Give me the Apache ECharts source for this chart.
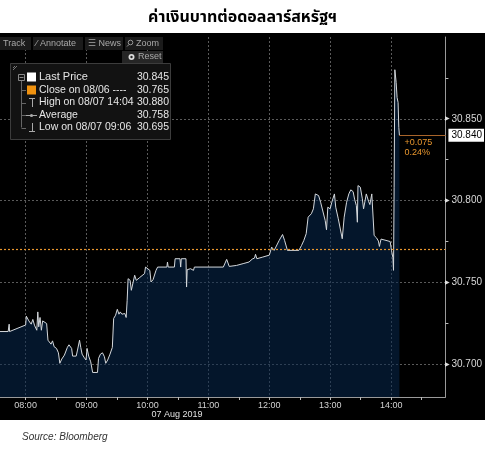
<!DOCTYPE html>
<html>
<head>
<meta charset="utf-8">
<script src="https://cdn.jsdelivr.net/npm/echarts@6/dist/echarts.min.js"></script>
<style>
  html, body { margin: 0; padding: 0; background: #fff; }
  #wrap { position: relative; width: 485px; height: 450px; }
  #panel { position: absolute; left: 0; top: 33px; width: 485px; height: 387px; background: #000; }
  #chart { position: absolute; left: 0; top: 0; width: 485px; height: 450px; }
</style>
</head>
<body>
<div id="wrap"><div id="panel"></div><div id="chart"></div></div>
<script>
  // time of day in minutes since 00:00, 07 Aug 2019
  const times = [
    454.8, 462.8, 463.8, 464.2, 466.1, 480.0, 480.7, 483.2, 485.5, 487.1,
    488.7, 491.0, 492.0, 492.9, 494.2, 495.5, 496.8, 498.7, 500.7, 502.0,
    505.0, 506.5, 508.1, 510.4, 512.3, 513.7, 515.6, 518.2, 521.1, 522.7,
    525.3, 526.3, 529.8, 531.1, 533.1, 534.3, 535.6, 537.6, 539.5, 540.5,
    542.1, 544.1, 546.0, 550.8, 551.8, 553.7, 555.7, 557.6, 558.9, 560.8,
    563.1, 565.4, 566.7, 568.6, 570.3, 571.9, 573.2, 574.8, 577.7, 579.0,
    580.0, 580.9, 582.9, 584.1, 587.4, 589.0, 592.3, 597.1, 598.1, 602.3,
    603.5, 605.5, 608.4, 610.0, 619.1, 619.7, 620.4, 626.5, 627.2, 632.0,
    632.7, 633.3, 637.9, 638.5, 639.1, 642.4, 644.3, 645.3, 646.2, 674.7,
    678.0, 680.5, 687.7, 694.2, 700.0, 703.2, 705.4, 706.4, 707.7, 713.5,
    720.0, 722.3, 724.8, 726.5, 729.7, 733.0, 735.0, 737.8, 749.1, 751.7,
    754.0, 756.3, 758.2, 761.4, 763.4, 765.3, 768.5, 770.5, 772.4, 775.0,
    776.3, 777.6, 779.9, 781.5, 783.1, 784.1, 785.4, 787.9, 791.8, 793.7,
    796.1, 798.3, 800.2, 802.5, 804.1, 805.7, 806.7, 807.3, 809.6, 811.6,
    812.8, 815.5, 817.7, 819.0, 820.9, 822.3, 823.2, 825.5, 827.4, 828.4,
    830.0, 834.9, 839.0, 840.3, 841.7, 842.3, 842.9, 843.6, 844.9, 845.8,
    846.8, 847.5, 848.1
  ];
  const prices = [
    30.720, 30.720, 30.7245, 30.720, 30.720, 30.724, 30.7294, 30.7265, 30.7245, 30.7274,
    30.7239, 30.7208, 30.732, 30.7229, 30.7286, 30.7208, 30.7265, 30.7268, 30.7249, 30.7147,
    30.7123, 30.7143, 30.7107, 30.7097, 30.707, 30.7006, 30.7032, 30.7056, 30.7103, 30.7119,
    30.7097, 30.705, 30.705, 30.7087, 30.7147, 30.7103, 30.7062, 30.7042, 30.7026, 30.7097,
    30.705, 30.7015, 30.695, 30.695, 30.7036, 30.7062, 30.707, 30.7046, 30.7006, 30.7026,
    30.7062, 30.7103, 30.728, 30.730, 30.7336, 30.7306, 30.732, 30.7306, 30.731, 30.7286,
    30.7391, 30.7523, 30.7513, 30.7452, 30.7544, 30.7513, 30.753, 30.7554, 30.7594, 30.7574,
    30.7503, 30.7517, 30.7574, 30.7594, 30.7594, 30.7625, 30.7594, 30.7594, 30.7645, 30.7645,
    30.7594, 30.7645, 30.7645, 30.7472, 30.7578, 30.7584, 30.7594, 30.7574, 30.7594, 30.7594,
    30.7641, 30.7598, 30.7604, 30.7615, 30.7625, 30.7643, 30.7649, 30.7672, 30.7645, 30.7655,
    30.7667, 30.7716, 30.7696, 30.770, 30.7757, 30.7793, 30.7757, 30.7696, 30.7696, 30.7726,
    30.7757, 30.7798, 30.7899, 30.792, 30.795, 30.8041, 30.8031, 30.799, 30.798, 30.7879,
    30.7822, 30.796, 30.795, 30.799, 30.7984, 30.8041, 30.796, 30.7889, 30.7767, 30.7899,
    30.799, 30.8041, 30.8066, 30.8055, 30.8005, 30.797, 30.7868, 30.8092, 30.8082, 30.8011,
    30.795, 30.8041, 30.7996, 30.7976, 30.8041, 30.8041, 30.7787, 30.7773, 30.7753, 30.772,
    30.7765, 30.7757, 30.775, 30.7696, 30.7651, 30.7574, 30.8082, 30.880, 30.8722, 30.863,
    30.860, 30.8447, 30.840
  ];
  const hourTicks = [480, 540, 600, 660, 720, 780, 840];
  const halfHourTicks = [480, 510, 540, 570, 600, 630, 660, 690, 720, 750, 780, 810, 840, 870];
  const priceLabels = [30.70, 30.75, 30.80, 30.85];
  const priceMinorTicks = [30.725, 30.775, 30.825, 30.875];
  const closePrice = 30.765;
  const lastPrice = 30.840;
  const legendNames = ['Last Price', 'Close on 08/06 ----', 'High on 08/07 14:04', 'Average', 'Low on 08/07 09:06'];
  const legendValues = ['30.845', '30.765', '30.880', '30.758', '30.695'];
  const toolbarItems = ['Track', '\u2044 Annotate', '\u2630 News', 'Zoom'];

  const xMin = 454.77, xMax = 893.4, yMin = 30.68, yMax = 30.90;
  const uiFont = '"Liberation Sans", Arial, sans-serif';
  const narrowFont = '"Liberation Sans Narrow", "Liberation Sans", sans-serif';

  let chart = echarts.init(document.getElementById('chart'), null, { renderer: 'canvas' });

  let pad = n => (n < 10 ? '0' : '') + n;
  let hhmm = m => pad(Math.floor(m / 60)) + ':' + pad(Math.round(m % 60));

  let change = lastPrice - closePrice;
  let changeText = '+' + change.toFixed(3) + '\n' + (change / closePrice * 100).toFixed(2) + '%';

  // toolbar, reset button and the legend box drawn as plain graphics
  let graphics = [];
  let tbX = [0, 33, 85, 125], tbW = [31, 50, 38, 38], tbText = [3, 3, 3, 11];
  toolbarItems.forEach((t, i) => {
    graphics.push({ type: 'rect', shape: { x: tbX[i], y: 37, width: tbW[i], height: 13 }, style: { fill: '#1b1b1b' }, z: 100 });
    graphics.push({ type: 'text', x: tbX[i] + tbText[i], y: 44, style: { text: t, fill: '#a8a8a8', font: '9px ' + uiFont, verticalAlign: 'middle' }, z: 101 });
  });
  graphics.push({ type: 'circle', shape: { cx: 130.5, cy: 42.5, r: 2.3 }, style: { fill: 'none', stroke: '#999', lineWidth: 1 }, z: 101 });
  graphics.push({ type: 'line', shape: { x1: 129, y1: 44.5, x2: 127, y2: 46.5 }, style: { stroke: '#999', lineWidth: 1 }, z: 101 });
  graphics.push({ type: 'rect', shape: { x: 122, y: 51, width: 41, height: 12 }, style: { fill: '#262626' }, z: 100 });
  graphics.push({ type: 'circle', shape: { cx: 131.5, cy: 57, r: 3 }, style: { fill: '#dddddd' }, z: 101 });
  graphics.push({ type: 'circle', shape: { cx: 131.5, cy: 57, r: 1.2 }, style: { fill: '#262626' }, z: 102 });
  graphics.push({ type: 'text', x: 138, y: 57, style: { text: 'Reset', fill: '#a8a8a8', font: '9px ' + uiFont, verticalAlign: 'middle' }, z: 101 });

  graphics.push({ type: 'rect', shape: { x: 10.5, y: 63.5, width: 160, height: 76 }, style: { fill: '#121212', stroke: '#3c3c3c', lineWidth: 1 }, z: 100 });
  graphics.push({ type: 'line', shape: { x1: 13, y1: 70, x2: 17, y2: 66 }, style: { stroke: '#777', lineWidth: 1 }, z: 101 });
  graphics.push({ type: 'line', shape: { x1: 13, y1: 68, x2: 15, y2: 66 }, style: { stroke: '#777', lineWidth: 1 }, z: 101 });
  let rowY = [77, 90, 102.5, 115, 127.5];
  graphics.push({ type: 'rect', shape: { x: 18.5, y: 74.5, width: 6, height: 6 }, style: { fill: 'none', stroke: '#888', lineWidth: 1 }, z: 101 });
  graphics.push({ type: 'line', shape: { x1: 19.5, y1: 77.5, x2: 23.5, y2: 77.5 }, style: { stroke: '#888', lineWidth: 1 }, z: 101 });
  graphics.push({ type: 'line', shape: { x1: 21.5, y1: 81, x2: 21.5, y2: 127.5 }, style: { stroke: '#666', lineWidth: 1 }, z: 101 });
  rowY.slice(1).forEach(y => {
    graphics.push({ type: 'line', shape: { x1: 21.5, y1: Math.round(y) + 0.5, x2: 26, y2: Math.round(y) + 0.5 }, style: { stroke: '#666', lineWidth: 1 }, z: 101 });
  });
  graphics.push({ type: 'rect', shape: { x: 27, y: 72.5, width: 9, height: 9 }, style: { fill: '#ffffff' }, z: 101 });
  graphics.push({ type: 'rect', shape: { x: 27, y: 85.5, width: 9, height: 9 }, style: { fill: '#f0920f' }, z: 101 });
  graphics.push({ type: 'polyline', shape: { points: [[29, 98.5], [35, 98.5]] }, style: { stroke: '#aaa', lineWidth: 1 }, z: 101 });
  graphics.push({ type: 'polyline', shape: { points: [[32.5, 98.5], [32.5, 107]] }, style: { stroke: '#aaa', lineWidth: 1 }, z: 101 });
  graphics.push({ type: 'polyline', shape: { points: [[26, 115.5], [37, 115.5]] }, style: { stroke: '#aaa', lineWidth: 1 }, z: 101 });
  graphics.push({ type: 'circle', shape: { cx: 31.5, cy: 115.5, r: 1.6 }, style: { fill: '#aaa' }, z: 101 });
  graphics.push({ type: 'polyline', shape: { points: [[32.5, 123], [32.5, 131.5]] }, style: { stroke: '#aaa', lineWidth: 1 }, z: 101 });
  graphics.push({ type: 'polyline', shape: { points: [[29, 131.5], [35, 131.5]] }, style: { stroke: '#aaa', lineWidth: 1 }, z: 101 });
  legendNames.forEach((n, i) => {
    graphics.push({ type: 'text', x: 39, y: rowY[i], style: { text: n, fill: '#e6e6e6', font: (i === 0 ? '11px ' : '10.5px ') + uiFont, verticalAlign: 'middle' }, z: 101 });
    graphics.push({ type: 'text', x: 169, y: rowY[i], style: { text: legendValues[i], fill: '#e6e6e6', font: '10.5px ' + uiFont, verticalAlign: 'middle', align: 'right' }, z: 101 });
  });

  graphics.push({ type: 'text', x: 177, y: 415, style: { text: '07 Aug 2019', fill: '#e0e0e0', font: '9px ' + narrowFont, align: 'center', verticalAlign: 'middle' }, z: 101 });
  graphics.push({ type: 'text', x: 22, y: 437, style: { text: 'Source: Bloomberg', fill: '#333333', font: 'italic 10px ' + uiFont, verticalAlign: 'middle' }, z: 101 });

  let gridLine = { show: true, lineStyle: { color: '#5a5a5a', type: [2, 2], width: 1 } };

  let option = {
    animation: false,
    title: {
      text: 'ค่าเงินบาทต่อดอลลาร์สหรัฐฯ',
      left: 'center',
      top: 6,
      textStyle: { fontSize: 16, fontWeight: 'bold', color: '#000', fontFamily: 'Tahoma, "Noto Sans Thai", "Noto Sans", sans-serif' }
    },
    grid: { left: 0, right: 33, top: 37, bottom: 53 },
    xAxis: [
      {
        type: 'value', min: xMin, max: xMax,
        axisLine: { lineStyle: { color: '#9a9a9a' } },
        axisTick: { customValues: hourTicks, length: 3, lineStyle: { color: '#bbb' } },
        axisLabel: { customValues: hourTicks, formatter: hhmm, color: '#d2d2d2', fontSize: 9, fontFamily: narrowFont, margin: 4 },
        splitLine: gridLine
      },
      {
        type: 'value', min: xMin, max: xMax, position: 'bottom',
        axisLine: { show: false },
        axisTick: { customValues: halfHourTicks, length: 3, lineStyle: { color: '#bbb' } },
        axisLabel: { show: false },
        splitLine: { show: false }
      }
    ],
    yAxis: [
      {
        type: 'value', min: yMin, max: yMax, position: 'right',
        axisLine: { show: true, lineStyle: { color: '#9a9a9a' } },
        axisTick: { customValues: priceLabels, length: 0 },
        axisLabel: {
          customValues: priceLabels,
          formatter: v => '{m|\u25B6}' + v.toFixed(3),
          color: '#d8d8d8', fontSize: 10, fontFamily: uiFont, margin: 0,
          rich: { m: { fontSize: 6, color: '#e0e0e0', padding: [0, 1, 0, 0] } }
        },
        splitLine: gridLine
      },
      {
        type: 'value', min: yMin, max: yMax, position: 'right',
        axisLine: { show: false },
        axisTick: { customValues: priceMinorTicks, length: 3, lineStyle: { color: '#bbb' } },
        axisLabel: { show: false },
        splitLine: { show: false }
      }
    ],
    series: [
      {
        type: 'line',
        data: times.map((t, i) => [t, prices[i]]),
        showSymbol: false,
        lineStyle: { color: '#d4d8dc', width: 1 },
        areaStyle: { color: 'rgba(8, 40, 78, 0.78)', origin: 'start' },
        markLine: {
          silent: true,
          symbol: 'none',
          data: [
            { yAxis: closePrice, lineStyle: { color: '#e8962e', type: [2, 2], width: 1.2 }, label: { show: false } },
            [
              { coord: [times[times.length - 1], lastPrice] },
              { coord: [xMax, lastPrice] }
            ],
            [
              { coord: [times[times.length - 1], lastPrice], label: { show: false } },
              { coord: [xMax, lastPrice] }
            ]
          ],
          lineStyle: { color: '#a8642a', type: 'solid', width: 1 },
          label: { show: false }
        }
      }
    ],
    graphic: graphics
  };

  // labels for the last price line
  option.series[0].markLine.data[1][0].label = {
    show: true, position: 'insideStartBottom', formatter: changeText,
    color: '#e8962e', fontSize: 9, fontFamily: uiFont, lineHeight: 10, align: 'left', distance: [5, 2]
  };
  option.series[0].markLine.data[2][0].label = {
    show: true, position: 'end', formatter: lastPrice.toFixed(3),
    color: '#000', backgroundColor: '#fff', padding: [2, 2, 1, 3], fontSize: 10, fontFamily: uiFont, distance: 3
  };

  chart.setOption(option);
</script>
</body>
</html>
